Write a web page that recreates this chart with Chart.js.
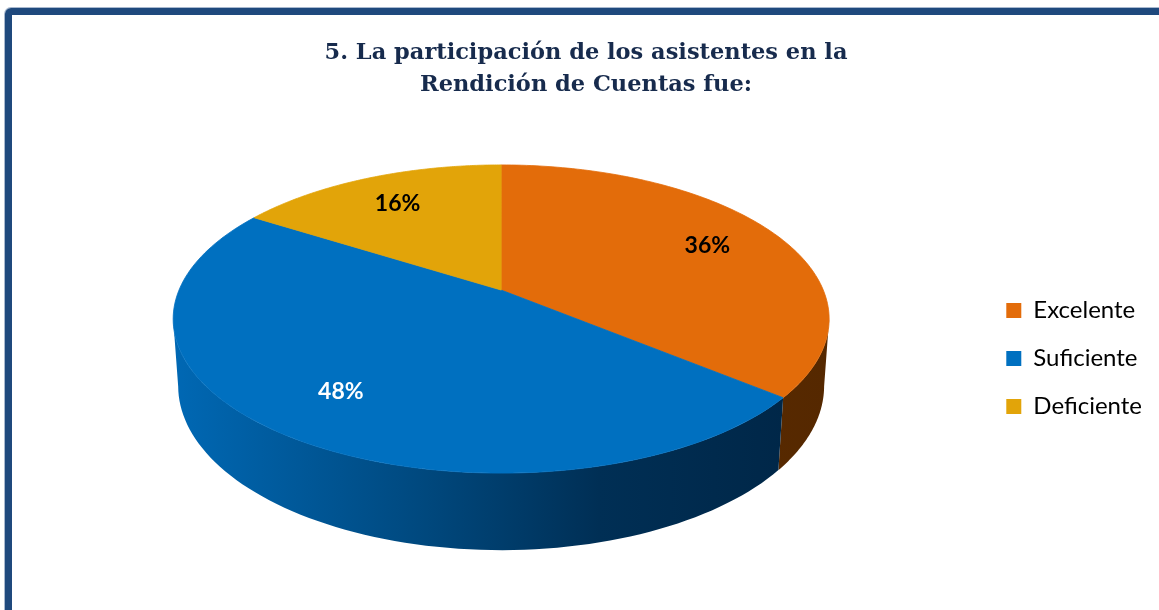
<!DOCTYPE html>
<html>
<head>
<meta charset="utf-8">
<script src="https://cdn.jsdelivr.net/npm/chart.js@4.4.0/dist/chart.umd.min.js"></script>
<style>
html, body { margin: 0; padding: 0; background: #fff; }
#marco {
	position: absolute; left: 5px; top: 8px; width: 1175px; height: 630px;
	border: 7px solid #1F497D; border-radius: 6px; box-sizing: border-box;
	box-shadow: 0 0 0 1px #A9B9CF;
}
#contenedor { position: absolute; left: 0; top: 0; width: 1159px; height: 610px; }
</style>
</head>
<body>
<div id="marco"></div>
<div id="contenedor"><canvas id="grafico"></canvas></div>
<script>
/* datos del grafico */
const categorias = ["Excelente", "Suficiente", "Deficiente"];
const porcentajes = [36, 48, 16];
const etiquetas = ["36%", "48%", "16%"];
const titulo = ["5. La participación de los asistentes en la", "Rendición de Cuentas fue:"];

/* estilos */
const coloresCara = ["#E36C0A", "#0070C0", "#E2A409"];
const coloresEtiqueta = ["#000000", "#FFFFFF", "#000000"];

// Pastel 3D con perspectiva, usando los angulos que calcula Chart.js
const pastel3D = {
	id: "pastel3D",
	beforeDatasetsDraw(chart) {
		const ctx = chart.ctx;
		const arcos = chart.getDatasetMeta(0).data;
		const R = arcos[0].outerRadius;
		const g = {
			cx: arcos[0].x, cy: arcos[0].y - 0.35 * R,
			sx: 1.673 * R, sy: 0.772 * R, h: 0.345 * R,
			p: 0.188, q: 0.015,
		};
		const pt = (t, f, abajo) => {
			const X = f * Math.cos(t), Z = f * Math.sin(t);
			const w = 1 - g.p * Z + (abajo ? g.q : 0);
			return [g.cx + g.sx * X / w, g.cy + (g.sy * Z + (abajo ? g.h : 0)) / w];
		};
		const tDer = Math.asin(g.p), tIzq = Math.PI - Math.asin(g.p);
		const xIzq = pt(tIzq, 1, false)[0], xDer = pt(tDer, 1, false)[0];

		// lados
		const ladoAzul = ctx.createLinearGradient(xIzq, 0, xDer, 0);
		ladoAzul.addColorStop(0, "#0068B4");
		ladoAzul.addColorStop(0.375, "#00497F");
		ladoAzul.addColorStop(0.65, "#002F55");
		ladoAzul.addColorStop(1, "#002545");
		const ladoNaranja = ctx.createLinearGradient(xIzq, 0, xDer, 0);
		ladoNaranja.addColorStop(0, "#6A3300");
		ladoNaranja.addColorStop(1, "#552800");
		const coloresLado = [ladoNaranja, ladoAzul, "#7A5500"];

		ctx.save();
		arcos.forEach((arc, i) => {
			[0, 2 * Math.PI].forEach(off => {
				const t1 = Math.max(arc.startAngle, tDer + off);
				const t2 = Math.min(arc.endAngle, tIzq + off);
				if (t2 <= t1) return;
				const n = 80;
				ctx.beginPath();
				for (let k = 0; k <= n; k++) {
					const [x, y] = pt(t1 + (t2 - t1) * k / n, 1, false);
					k === 0 ? ctx.moveTo(x, y) : ctx.lineTo(x, y);
				}
				for (let k = n; k >= 0; k--) {
					const [x, y] = pt(t1 + (t2 - t1) * k / n, 1, true);
					ctx.lineTo(x, y);
				}
				ctx.closePath();
				ctx.fillStyle = coloresLado[i];
				ctx.fill();
			});
		});

		// cara superior
		arcos.forEach((arc, i) => {
			const n = 120;
			ctx.beginPath();
			ctx.moveTo(g.cx, g.cy);
			for (let k = 0; k <= n; k++) {
				const [x, y] = pt(arc.startAngle + (arc.endAngle - arc.startAngle) * k / n, 1, false);
				ctx.lineTo(x, y);
			}
			ctx.closePath();
			ctx.fillStyle = coloresCara[i];
			ctx.strokeStyle = coloresCara[i];
			ctx.lineWidth = 0.8;
			ctx.fill();
			ctx.stroke();
		});

		// etiquetas de porcentaje
		ctx.font = "bold 23px Lato";
		ctx.textAlign = "center";
		ctx.textBaseline = "middle";
		arcos.forEach((arc, i) => {
			const [x, y] = pt((arc.startAngle + arc.endAngle) / 2, 0.75, false);
			ctx.fillStyle = coloresEtiqueta[i];
			ctx.fillText(etiquetas[i], x, y);
		});
		ctx.restore();
		return false;
	},
};

const ctx = document.getElementById("grafico").getContext("2d");

let miGrafico = new Chart(ctx, {
	type: "pie",
	data: {
		labels: categorias,
		datasets: [
			{
				data: porcentajes,
				backgroundColor: coloresCara,
				borderWidth: 0,
			},
		],
	},
	options: {
		responsive: true,
		maintainAspectRatio: false,
		animation: false,
		layout: {
			padding: { left: 20, right: 7, top: 0, bottom: 60 },
		},
		plugins: {
			title: {
				display: true,
				text: titulo,
				color: "#172B4D",
				font: { family: "'DejaVu Serif'", size: 22.5, weight: "bold", lineHeight: 1.42 },
				padding: { top: 37, bottom: 64 },
			},
			legend: {
				position: "right",
				title: {
					display: true,
					text: " ",
					font: { size: 1 },
					padding: { top: 0, bottom: 166 },
				},
				labels: {
					boxWidth: 15,
					boxHeight: 15,
					padding: 24,
					color: "#000000",
					font: { family: "Lato", size: 24 },
				},
			},
			tooltip: { enabled: false },
		},
	},
	plugins: [pastel3D],
});
</script>
</body>
</html>
